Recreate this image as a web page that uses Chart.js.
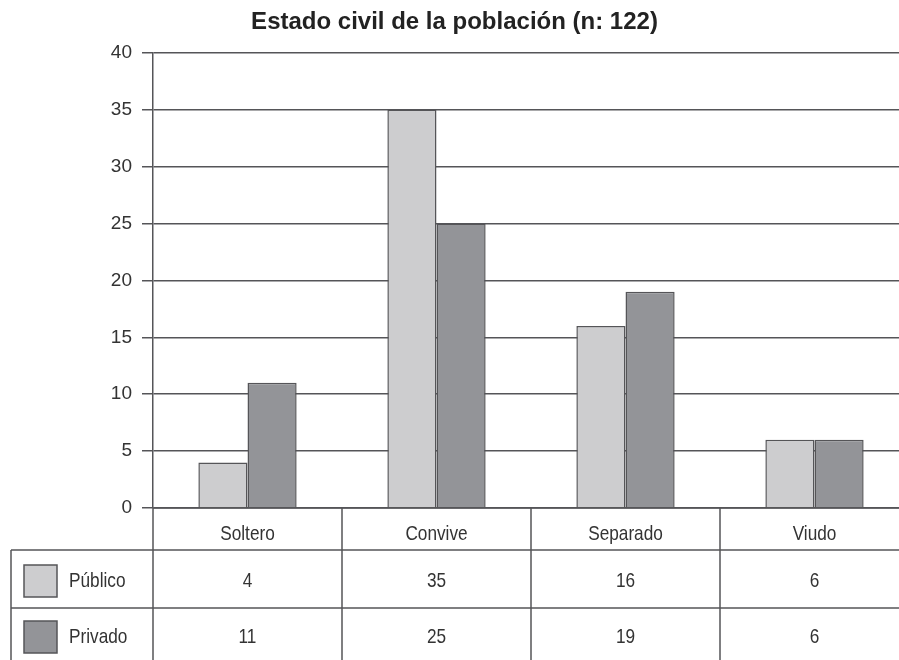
<!DOCTYPE html>
<html>
<head>
<meta charset="utf-8">
<script src="https://cdn.jsdelivr.net/npm/chart.js@4"></script>
<style>
  html, body { margin: 0; padding: 0; background: #fff; overflow: hidden; }
  #wrap { width: 909px; height: 660px; }
</style>
</head>
<body>
<div id="wrap"><canvas id="chart"></canvas></div>
<script>
// Datos
const categorias = ['Soltero', 'Convive', 'Separado', 'Viudo'];
const series = ['Público', 'Privado'];
const publico = [4, 35, 16, 6];
const privado = [11, 25, 19, 6];
const titulo = 'Estado civil de la población (n: 122)';

const FONT = '"Liberation Sans", Arial, sans-serif';
const colores = ['#cdcdcf', '#939498'];
const linea = '#555558';
const texto = '#333';

// texto algo estrechado, como la tipografia condensada del original
function textoEstrecho(ctx, s, x, y, align) {
    const k = 0.82;
    ctx.save();
    ctx.translate(x, y);
    ctx.scale(k, 1);
    ctx.textAlign = align;
    ctx.fillText(s, 0, 0);
    ctx.restore();
}

// Tabla de datos bajo el gráfico
const tablaPlugin = {
    id: 'tabla',
    afterDraw(chart) {
        const ctx = chart.ctx;
        const area = chart.chartArea;
        const x = chart.scales.x;
        const top = area.bottom;
        const fila1 = top + 42, fila2 = fila1 + 58, fondo = chart.height;
        const izq = 11;
        const filas = [top + 73, top + 129];
        const valores = [publico, privado];

        ctx.save();
        ctx.strokeStyle = linea;
        ctx.lineWidth = 1.5;
        ctx.beginPath();
        // linea del eje x y lineas horizontales
        ctx.moveTo(area.left, top); ctx.lineTo(area.right, top);
        [fila1, fila2].forEach(y => { ctx.moveTo(izq, y); ctx.lineTo(area.right, y); });
        // lineas verticales entre categorias
        for (let i = 0; i < categorias.length; i++) {
            const px = i === 0 ? area.left : (x.getPixelForValue(i - 1) + x.getPixelForValue(i)) / 2;
            ctx.moveTo(px, top); ctx.lineTo(px, fondo);
        }
        ctx.moveTo(izq, fila1); ctx.lineTo(izq, fondo);
        ctx.stroke();

        ctx.fillStyle = texto;
        ctx.font = '21px ' + FONT;
        ctx.textBaseline = 'middle';
        categorias.forEach((c, i) => textoEstrecho(ctx, c, x.getPixelForValue(i), top + 26, 'center'));
        valores.forEach((vals, r) => {
            vals.forEach((v, i) => textoEstrecho(ctx, String(v), x.getPixelForValue(i), filas[r], 'center'));
        });

        // leyenda en la primera columna
        series.forEach((s, r) => {
            const yc = filas[r];
            ctx.fillStyle = colores[r];
            ctx.fillRect(24, yc - 16, 33, 32);
            ctx.strokeStyle = linea;
            ctx.strokeRect(24, yc - 16, 33, 32);
            ctx.fillStyle = texto;
            textoEstrecho(ctx, s, 69, yc, 'left');
        });
        ctx.restore();
    }
};

new Chart(document.getElementById('chart'), {
    type: 'bar',
    data: {
        labels: categorias,
        datasets: [
            { label: series[0], data: publico, backgroundColor: colores[0] },
            { label: series[1], data: privado, backgroundColor: colores[1] }
        ]
    },
    options: {
        responsive: true,
        maintainAspectRatio: false,
        animation: false,
        layout: { padding: { top: 0, bottom: 152, left: 0, right: 0 } },
        datasets: {
            bar: {
                categoryPercentage: 0.52,
                barPercentage: 1,
                borderColor: linea,
                borderWidth: 1.5
            }
        },
        plugins: {
            legend: { display: false },
            tooltip: { enabled: false },
            title: {
                display: true,
                text: titulo,
                color: '#222',
                font: { family: FONT, size: 24, weight: 'bold' },
                padding: { top: 8, bottom: 16 }
            }
        },
        scales: {
            x: {
                display: false
            },
            y: {
                min: 0,
                max: 40,
                ticks: { stepSize: 5, color: texto, font: { family: FONT, size: 19 }, padding: 10 },
                grid: { color: linea, lineWidth: 1.5, tickLength: 11 },
                border: { display: true, color: linea, width: 1.5 },
                afterFit: s => { s.width = 153; }
            }
        }
    },
    plugins: [tablaPlugin]
});
</script>
</body>
</html>
